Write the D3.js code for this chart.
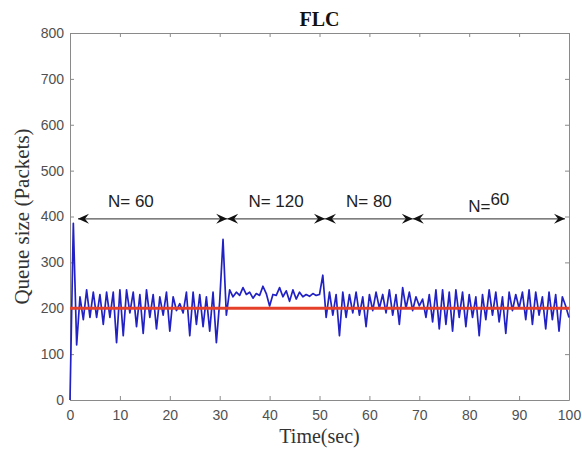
<!DOCTYPE html>
<html><head><meta charset="utf-8">
<script src="https://cdn.jsdelivr.net/npm/d3@7"></script>
<style>body{margin:0;background:#fff}svg{display:block}</style>
</head><body>
<svg id="c" width="582" height="450"></svg>
<script>
// time step between samples (sec)
const step = 100 / 150;
// queue size samples (packets)
const queue = [
 0,385,120,225,175,240,180,235,180,230,165,235,180,235,125,240,140,240,190,235,
 160,230,145,240,180,230,155,225,185,235,150,225,195,210,190,235,140,235,165,230,
 160,225,150,235,125,215,350,185,240,225,235,228,245,230,235,222,232,228,248,232,
 205,230,228,245,225,238,215,240,220,235,225,230,226,232,228,230,272,180,235,185,
 230,140,235,180,230,190,235,185,225,160,230,195,235,200,230,190,240,185,230,165,
 245,200,235,195,225,205,220,180,230,170,240,155,240,165,235,150,240,180,235,160,
 230,180,225,140,230,175,240,185,235,170,225,145,235,195,230,200,235,175,240,165,
 235,185,225,155,235,175,230,150,225,205,180
];
const reference = 200;
const xTicks = [0,10,20,30,40,50,60,70,80,90,100];
const yTicks = [0,100,200,300,400,500,600,700,800];
const regionStart = [1.6, 31.5, 51.1, 68.7];
const regionEnd   = [31.5, 51.1, 68.7, 99.2];
const regionLabel = ["N= 60", "N= 120", "N= 80", "N="];
const regionSup   = ["", "", "", "60"];
const labelT = [12.2, 41.3, 59.9, 79.8];
const labelQ = [420, 420, 420, 409];
const arrowQ = 395;

const svg = d3.select("#c");
const m = {l:70, r:13, t:33, b:50};
const W = 582, H = 450;
const x = d3.scaleLinear().domain([0,100]).range([m.l, W - m.r]);
const y = d3.scaleLinear().domain([0,800]).range([H - m.b, m.t]);
const axisCol = "#8a8a8a", textCol = "#505050";

const defs = svg.append("defs");
defs.append("marker").attr("id","ah").attr("viewBox","-12 -6 14 12")
  .attr("refX",0).attr("refY",0).attr("markerWidth",14).attr("markerHeight",12)
  .attr("markerUnits","userSpaceOnUse").attr("orient","auto-start-reverse")
  .append("path").attr("d","M0,0 L-11,-5 L-7,0 L-11,5 Z").attr("fill","#111");

// axes (box with inward ticks)
const ax = (g, axis) => {
  g.call(axis);
  g.select(".domain").attr("stroke", axisCol);
  g.selectAll(".tick line").attr("stroke", axisCol);
  g.selectAll("text").attr("fill", textCol).style("font-family","'Liberation Sans',Arial,sans-serif").style("font-size","14px");
};
svg.append("g").attr("transform",`translate(0,${y(0)})`)
  .call(g => ax(g, d3.axisBottom(x).tickValues(xTicks).tickSize(-4).tickPadding(10).tickSizeOuter(0)));
svg.append("g").attr("transform",`translate(0,${y(800)})`)
  .call(g => ax(g, d3.axisTop(x).tickValues(xTicks).tickSize(-4).tickFormat("").tickSizeOuter(0)));
svg.append("g").attr("transform",`translate(${x(0)},0)`)
  .call(g => ax(g, d3.axisLeft(y).tickValues(yTicks).tickSize(-4).tickPadding(6).tickSizeOuter(0)));
svg.append("g").attr("transform",`translate(${x(100)},0)`)
  .call(g => ax(g, d3.axisRight(y).tickValues(yTicks).tickSize(-4).tickFormat("").tickSizeOuter(0)));

// queue line
const line = d3.line().x((d,i) => x(i*step)).y(d => y(d));
svg.append("path").datum(queue).attr("d", line).attr("fill","none")
  .attr("stroke","#2222c4").attr("stroke-width",1.7).attr("stroke-linejoin","round");
// reference line
svg.append("line").attr("x1",x(0)).attr("x2",x(100)).attr("y1",y(reference)).attr("y2",y(reference))
  .attr("stroke","#e4402a").attr("stroke-width",3);

// region arrows
regionStart.forEach((s,i) => {
  svg.append("line").attr("x1",x(s)).attr("x2",x(regionEnd[i])).attr("y1",y(arrowQ)).attr("y2",y(arrowQ))
    .attr("stroke","#555").attr("stroke-width",1.2)
    .attr("marker-start","url(#ah)").attr("marker-end","url(#ah)");
  const t = svg.append("text").attr("x",x(labelT[i])).attr("y",y(labelQ[i]))
    .attr("text-anchor", regionSup[i] ? "start" : "middle")
    .attr("fill","#222").style("font-family","'Liberation Sans',Arial,sans-serif").style("font-size","17px")
    .text(regionLabel[i]);
  if (regionSup[i]) t.append("tspan").attr("dy",-7).text(regionSup[i]);
});

// title and labels
svg.append("text").attr("x",(x(0)+x(100))/2).attr("y",26).attr("text-anchor","middle")
  .style("font-family","'Liberation Serif','Times New Roman',serif").style("font-weight","bold").style("font-size","20px")
  .attr("fill","#111").text("FLC");
svg.append("text").attr("x",(x(0)+x(100))/2).attr("y",443).attr("text-anchor","middle")
  .style("font-family","'Liberation Serif','Times New Roman',serif").style("font-size","20px")
  .attr("fill","#333").text("Time(sec)");
svg.append("text").attr("transform",`translate(29,${(y(0)+y(800))/2}) rotate(-90)`).attr("text-anchor","middle")
  .style("font-family","'Liberation Serif','Times New Roman',serif").style("font-size","21px")
  .attr("fill","#333").text("Queue size (Packets)");
</script>
</body></html>
